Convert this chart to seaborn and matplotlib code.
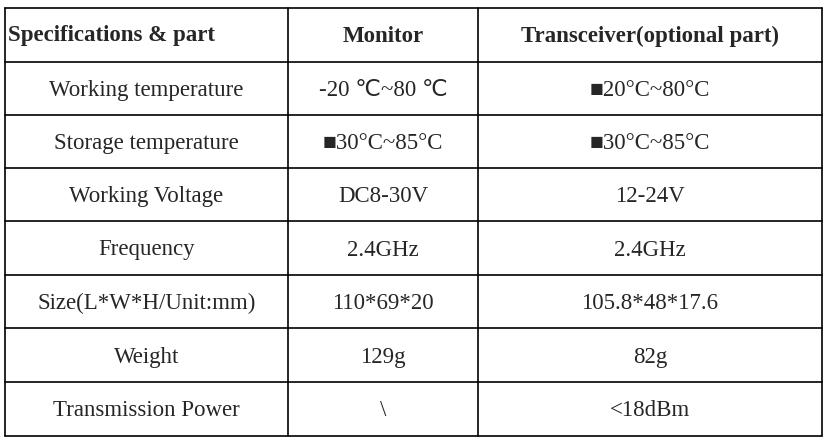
"""
Spec table (monitor vs transceiver) redrawn with matplotlib/seaborn
"""
import matplotlib
matplotlib.use("Agg")
import matplotlib.pyplot as plt
import seaborn as sns

headers = ["Specifications & part", "Monitor", "Transceiver(optional part)"]
specs = ["Working temperature", "Storage temperature", "Working Voltage", "Frequency",
         "Size(L*W*H/Unit:mm)", "Weight", "Transmission Power"]
monitor = ["-20 \u2103~80 \u2103", "\u25a030\u00b0C~85\u00b0C", "DC8-30V", "2.4GHz",
           "110*69*20", "129g", "\\"]
transceiver = ["\u25a020\u00b0C~80\u00b0C", "\u25a030\u00b0C~85\u00b0C", "12-24V", "2.4GHz",
               "105.8*48*17.6", "82g", "<18dBm"]

sns.set_style("white")
plt.rcParams['font.family'] = ['Liberation Serif', 'DejaVu Sans']

fig = plt.figure(figsize=(8.27, 4.41), dpi=100)
ax = fig.add_axes([0, 0, 1, 1])
ax.set_xlim(0, 827)
ax.set_ylim(441, 0)
ax.axis("off")

col_edges = [5, 288, 478, 822]
row_edges = [8, 62, 115, 168, 221, 275, 328, 382, 436]

for x in col_edges:
    ax.plot([x, x], [row_edges[0], row_edges[-1]], color="black", lw=1.2)
for y in row_edges:
    ax.plot([col_edges[0], col_edges[-1]], [y, y], color="black", lw=1.2)

# header row
hy = (row_edges[0] + row_edges[1]) / 2 + 1
ax.text(col_edges[0] + 3, hy, headers[0], ha="left", va="center", fontsize=16.5, fontweight="bold")
for i in (1, 2):
    ax.text((col_edges[i] + col_edges[i + 1]) / 2, hy, headers[i], ha="center", va="center",
            fontsize=16.5, fontweight="bold")

rows = list(zip(specs, monitor, transceiver))
for r, vals in enumerate(rows):
    y = (row_edges[r + 1] + row_edges[r + 2]) / 2 + 2
    for c, v in enumerate(vals):
        ax.text((col_edges[c] + col_edges[c + 1]) / 2, y, v, ha="center", va="center", fontsize=16.5)

fig.savefig("out.png", dpi=100)
